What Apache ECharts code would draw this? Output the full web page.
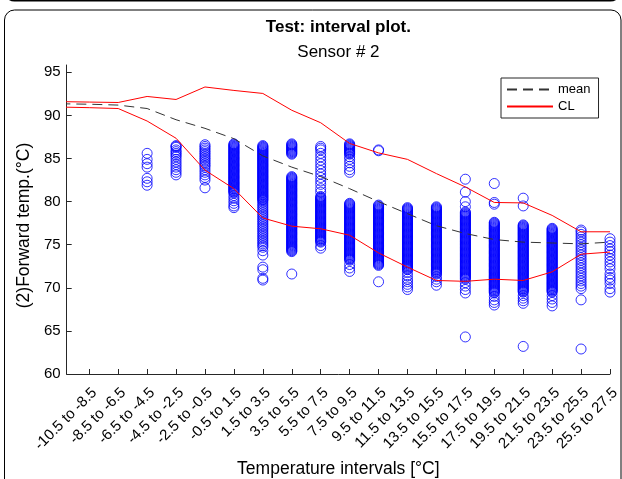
<!DOCTYPE html>
<html><head><meta charset="utf-8">
<script src="https://cdn.jsdelivr.net/npm/echarts@6/dist/echarts.min.js"></script>
<style>html,body{margin:0;padding:0;background:#fff}#c{width:622px;height:479px}</style>
</head><body><div id="c"></div>
<script>
const categories = ['-10.5 to -8.5','-8.5 to -6.5','-6.5 to -4.5','-4.5 to -2.5','-2.5 to -0.5','-0.5 to 1.5','1.5 to 3.5','3.5 to 5.5','5.5 to 7.5','7.5 to 9.5','9.5 to 11.5','11.5 to 13.5','13.5 to 15.5','15.5 to 17.5','17.5 to 19.5','19.5 to 21.5','21.5 to 23.5','23.5 to 25.5','25.5 to 27.5'];
const categoryPos = [1,2,3,4,5,6,7,8,9,10,11,12,13,14,15,16,17,18,19];
const yTicks = [60,65,70,75,80,85,90,95];

const c01 = [];
const c02 = [];
const c03 = [85.6,84.9,84.4,84.0,82.7,82.3,81.9];
const c04 = [86.5,86.4,86.3,86.0,85.8,85.6,85.4,85.2,84.9,84.6,84.3,84.0,83.7,83.4,83.1];
const c05 = [86.6,86.4,86.2,86.0,85.8,85.6,85.4,85.2,85.0,84.8,84.6,84.4,84.2,84.0,83.7,83.4,83.1,82.8,82.5,81.6];
const c06 = [86.7,86.6,86.5,86.4,86.3,86.2,86.1,86.0,85.9,85.8,85.7,85.6,85.5,85.4,85.3,85.2,85.1,85.0,84.9,84.8,84.7,84.6,84.5,84.4,84.3,84.2,84.1,84.0,83.9,83.8,83.7,83.6,83.5,83.4,83.3,83.2,83.1,83.0,82.9,82.8,82.7,82.6,82.5,82.4,82.3,82.2,82.1,82.0,81.9,81.8,81.7,81.6,81.5,81.4,81.3,81.2,81.1,81.0,80.7,80.4,80.1,79.8,79.5,79.3];
const c07 = [86.5,86.4,86.3,86.2,86.1,86.0,85.9,85.8,85.7,85.6,85.5,85.4,85.3,85.2,85.1,85.0,84.9,84.8,84.7,84.6,84.5,84.4,84.3,84.2,84.1,84.0,83.9,83.8,83.7,83.6,83.5,83.4,83.3,83.2,83.1,83.0,82.9,82.8,82.7,82.6,82.5,82.4,82.3,82.2,82.1,82.0,81.9,81.8,81.7,81.6,81.5,81.4,81.3,81.2,81.1,81.0,80.9,80.8,80.7,80.6,80.5,80.4,80.3,80.2,80.1,79.9,79.7,79.5,79.3,79.1,78.9,78.7,78.5,78.3,78.1,77.9,77.7,77.5,77.3,77.1,76.9,76.7,76.5,76.3,76.1,75.9,75.7,75.5,75.3,75.1,74.9,74.7,74.3,73.8,72.4,72.1,71.1,70.9];
const c08 = [86.7,86.6,86.5,86.4,86.3,86.2,86.1,86.0,85.9,85.8,85.7,85.6,85.5,82.9,82.8,82.7,82.6,82.5,82.4,82.3,82.2,82.1,82.0,81.9,81.8,81.7,81.6,81.5,81.4,81.3,81.2,81.1,81.0,80.9,80.8,80.7,80.6,80.5,80.4,80.3,80.2,80.1,80.0,79.9,79.8,79.7,79.6,79.5,79.4,79.3,79.2,79.1,79.0,78.9,78.8,78.7,78.6,78.5,78.4,78.3,78.2,78.1,78.0,77.9,77.8,77.7,77.6,77.5,77.4,77.3,77.2,77.1,77.0,76.9,76.8,76.7,76.6,76.5,76.4,76.3,76.2,76.1,76.0,75.9,75.8,75.7,75.6,75.5,75.4,75.3,75.2,75.1,75.0,74.9,74.8,74.7,74.6,74.5,74.4,74.3,74.2,71.6];
const c09 = [86.4,86.2,86.0,85.6,85.2,84.8,84.4,84.0,83.6,83.2,82.8,82.4,82.0,81.5,81.1,80.6,80.5,80.4,80.3,80.2,80.1,80.0,79.9,79.8,79.7,79.6,79.5,79.4,79.3,79.2,79.1,79.0,78.9,78.8,78.7,78.6,78.5,78.4,78.3,78.2,78.1,78.0,77.9,77.8,77.7,77.6,77.5,77.4,77.3,77.2,77.1,77.0,76.9,76.8,76.7,76.6,76.5,76.4,76.3,76.2,76.1,76.0,75.9,75.8,75.7,75.6,75.5,75.4,75.3,74.9,74.6];
const c10 = [86.7,86.6,86.5,86.4,86.3,86.2,86.1,86.0,85.9,85.8,85.7,85.6,85.5,85.2,84.9,84.5,84.1,83.7,83.4,79.8,79.7,79.6,79.5,79.4,79.3,79.2,79.1,79.0,78.9,78.8,78.7,78.6,78.5,78.4,78.3,78.2,78.1,78.0,77.9,77.8,77.7,77.6,77.5,77.4,77.3,77.2,77.1,77.0,76.9,76.8,76.7,76.6,76.5,76.4,76.3,76.2,76.1,76.0,75.9,75.8,75.7,75.6,75.5,75.4,75.3,75.2,75.1,75.0,74.9,74.8,74.7,74.6,74.5,74.4,74.3,74.2,74.1,74.0,73.9,73.8,73.7,73.6,73.5,73.4,73.3,73.2,72.7,72.3,71.9];
const c11 = [86.0,85.9,79.6,79.5,79.4,79.3,79.2,79.1,79.0,78.9,78.8,78.7,78.6,78.5,78.4,78.3,78.2,78.1,78.0,77.9,77.8,77.7,77.6,77.5,77.4,77.3,77.2,77.1,77.0,76.9,76.8,76.7,76.6,76.5,76.4,76.3,76.2,76.1,76.0,75.9,75.8,75.7,75.6,75.5,75.4,75.3,75.2,75.1,75.0,74.9,74.8,74.7,74.6,74.5,74.4,74.3,74.2,74.1,74.0,73.9,73.8,73.7,73.6,73.5,73.4,73.3,73.2,73.1,73.0,72.9,72.8,72.7,72.6,70.7];
const c12 = [79.3,79.2,79.1,79.0,78.9,78.8,78.7,78.6,78.5,78.4,78.3,78.2,78.1,78.0,77.9,77.8,77.7,77.6,77.5,77.4,77.3,77.2,77.1,77.0,76.9,76.8,76.7,76.6,76.5,76.4,76.3,76.2,76.1,76.0,75.9,75.8,75.7,75.6,75.5,75.4,75.3,75.2,75.1,75.0,74.9,74.8,74.7,74.6,74.5,74.4,74.3,74.2,74.1,74.0,73.9,73.8,73.7,73.6,73.5,73.4,73.3,73.2,73.1,73.0,72.9,72.8,72.7,72.6,72.5,72.4,72.3,72.2,72.1,71.8,71.4,71.0,70.7,70.4,70.1,69.8];
const c13 = [79.4,79.3,79.2,79.1,79.0,78.9,78.8,78.7,78.6,78.5,78.4,78.3,78.2,78.1,78.0,77.9,77.8,77.7,77.6,77.5,77.4,77.3,77.2,77.1,77.0,76.9,76.8,76.7,76.6,76.5,76.4,76.3,76.2,76.1,76.0,75.9,75.8,75.7,75.6,75.5,75.4,75.3,75.2,75.1,75.0,74.9,74.8,74.7,74.6,74.5,74.4,74.3,74.2,74.1,74.0,73.9,73.8,73.7,73.6,73.5,73.4,73.3,73.2,73.1,73.0,72.9,72.8,72.7,72.6,72.5,72.4,72.3,72.2,72.1,72.0,71.9,71.8,71.7,71.6,71.3,71.0,70.7,70.3];
const c14 = [82.6,81.1,80.0,79.4,78.8,78.7,78.6,78.5,78.4,78.3,78.2,78.1,78.0,77.9,77.8,77.7,77.6,77.5,77.4,77.3,77.2,77.1,77.0,76.9,76.8,76.7,76.6,76.5,76.4,76.3,76.2,76.1,76.0,75.9,75.8,75.7,75.6,75.5,75.4,75.3,75.2,75.1,75.0,74.9,74.8,74.7,74.6,74.5,74.4,74.3,74.2,74.1,74.0,73.9,73.8,73.7,73.6,73.5,73.4,73.3,73.2,73.1,73.0,72.9,72.8,72.7,72.6,72.5,72.4,72.3,72.2,72.1,72.0,71.9,71.8,71.7,71.6,71.5,71.4,71.3,71.2,71.1,71.0,70.6,70.2,69.8,69.4,64.3];
const c15 = [82.1,79.9,79.7,77.6,77.5,77.4,77.3,77.2,77.1,77.0,76.9,76.8,76.7,76.6,76.5,76.4,76.3,76.2,76.1,76.0,75.9,75.8,75.7,75.6,75.5,75.4,75.3,75.2,75.1,75.0,74.9,74.8,74.7,74.6,74.5,74.4,74.3,74.2,74.1,74.0,73.9,73.8,73.7,73.6,73.5,73.4,73.3,73.2,73.1,73.0,72.9,72.8,72.7,72.6,72.5,72.4,72.3,72.2,72.1,72.0,71.9,71.8,71.7,71.6,71.5,71.4,71.3,71.2,71.1,71.0,70.9,70.8,70.7,70.6,70.5,70.4,70.3,70.2,70.1,70.0,69.9,69.8,69.7,69.6,69.5,69.4,69.0,68.6,68.3,68.0];
const c16 = [80.4,79.5,77.3,77.2,77.1,77.0,76.9,76.8,76.7,76.6,76.5,76.4,76.3,76.2,76.1,76.0,75.9,75.8,75.7,75.6,75.5,75.4,75.3,75.2,75.1,75.0,74.9,74.8,74.7,74.6,74.5,74.4,74.3,74.2,74.1,74.0,73.9,73.8,73.7,73.6,73.5,73.4,73.3,73.2,73.1,73.0,72.9,72.8,72.7,72.6,72.5,72.4,72.3,72.2,72.1,72.0,71.9,71.8,71.7,71.6,71.5,71.4,71.3,71.2,71.1,71.0,70.9,70.8,70.7,70.6,70.5,70.4,70.3,70.2,70.1,70.0,69.9,69.8,69.7,69.6,69.5,69.1,68.8,68.5,68.2,63.2];
const c17 = [76.9,76.8,76.7,76.6,76.5,76.4,76.3,76.2,76.1,76.0,75.9,75.8,75.7,75.6,75.5,75.4,75.3,75.2,75.1,75.0,74.9,74.8,74.7,74.6,74.5,74.4,74.3,74.2,74.1,74.0,73.9,73.8,73.7,73.6,73.5,73.4,73.3,73.2,73.1,73.0,72.9,72.8,72.7,72.6,72.5,72.4,72.3,72.2,72.1,72.0,71.9,71.8,71.7,71.6,71.5,71.4,71.3,71.2,71.1,71.0,70.9,70.8,70.7,70.6,70.5,70.4,70.3,70.2,70.1,70.0,69.9,69.8,69.7,69.6,69.5,69.1,68.7,68.3,67.9];
const c18 = [76.7,76.5,76.2,75.9,75.6,75.3,75.0,74.7,74.4,74.1,73.8,73.5,73.2,72.9,72.6,72.3,72.0,71.7,71.4,71.1,70.8,70.5,70.2,69.9,68.6,62.9];
const c19 = [75.7,75.3,74.9,74.5,74.2,73.8,73.4,73.0,72.6,72.2,71.6,71.2,70.9,70.5,69.9,69.5];
const columns = [c01,c02,c03,c04,c05,c06,c07,c08,c09,c10,c11,c12,c13,c14,c15,c16,c17,c18,c19];

const lineX = [0,1,2,3,4,5,6,7,8,9,10,11,12,13,14,15,16,17,18,19];
const meanVals = [91.35,91.3,91.2,90.8,89.5,88.5,87.3,85.3,84.0,82.9,81.5,80.0,78.6,77.2,76.3,75.6,75.3,75.2,75.1,75.3];
const clUpper = [91.6,91.55,91.5,92.2,91.85,93.3,92.9,92.55,90.6,89.15,86.75,85.65,84.9,83.25,81.7,79.9,79.85,78.4,76.5,76.5];
const clLower = [90.97,90.9,90.8,89.35,87.35,83.65,81.5,78.1,77.15,76.85,76.1,74.05,72.4,70.85,70.75,71.0,70.85,71.85,73.9,74.15];

const pts = [];
columns.forEach((col, i) => col.forEach(v => pts.push([categoryPos[i], v])));
const pair = arr => lineX.map((x, i) => [x, arr[i]]);

const FONT = 'Liberation Sans, Arial, Helvetica, sans-serif';
const AX = '#262626';
const chart = echarts.init(document.getElementById('c'), null, {renderer: 'canvas'});
chart.setOption({
  animation: false,
  backgroundColor: '#fff',
  textStyle: {fontFamily: FONT},
  title: [
    {text: 'Test: interval plot.', left: 338.4, textAlign: 'center', top: 19, padding: 0,
     textStyle: {fontSize: 17, fontWeight: 'bold', color: '#000', fontFamily: FONT}},
    {text: 'Sensor # 2', left: 338.4, textAlign: 'center', top: 44, padding: 0,
     textStyle: {fontSize: 17, fontWeight: 'normal', color: '#000', fontFamily: FONT}}
  ],
  legend: {
    data: ['mean', 'CL'], orient: 'vertical', left: 501, top: 78,
    padding: [5, 8, 5, 5], itemWidth: 46, itemHeight: 14, itemGap: 4,
    borderColor: AX, borderWidth: 1, backgroundColor: '#fff', selectedMode: false,
    itemStyle: {opacity: 0, color: 'transparent', borderWidth: 0},
    textStyle: {fontSize: 13, color: '#000', fontFamily: FONT}
  },
  graphic: [
    {type: 'rect', silent: true, z: -10, shape: {x: 4.5, y: -600, width: 616, height: 600.5, r: 10},
     style: {fill: 'none', stroke: '#000', lineWidth: 2}},
    {type: 'rect', silent: true, z: -10, shape: {x: 4.5, y: 10, width: 616.5, height: 700, r: 10},
     style: {fill: 'none', stroke: '#000', lineWidth: 1}}
  ],
  grid: {left: 66.7, right: 12, top: 65, bottom: 105, containLabel: false, outerBoundsMode: 'none'},
  xAxis: {
    type: 'value', min: 0.22, max: 19,
    name: 'Temperature intervals [°C]', nameLocation: 'middle', nameGap: 85,
    nameTextStyle: {fontSize: 17.5, color: '#000', fontFamily: FONT},
    axisLine: {lineStyle: {color: AX, width: 1}},
    axisTick: {inside: true, length: 5, customValues: categoryPos, lineStyle: {color: AX}},
    axisLabel: {customValues: categoryPos, rotate: 45, align: 'right', verticalAlign: 'top', margin: 11,
      fontSize: 15, color: '#000', fontFamily: FONT,
      formatter: v => categories[Math.round(v) - 1]},
    splitLine: {show: false}
  },
  yAxis: {
    type: 'value', min: 60, max: 95.85,
    name: '(2)Forward temp.(°C)', nameLocation: 'middle', nameGap: 30,
    nameTextStyle: {fontSize: 17.5, color: '#000', fontFamily: FONT, padding: [0, 12, 0, 0]},
    axisLine: {show: true, lineStyle: {color: AX, width: 1}},
    axisTick: {show: true, inside: true, length: 5, customValues: yTicks, lineStyle: {color: AX}},
    axisLabel: {customValues: yTicks, margin: 6, fontSize: 15, color: '#000', fontFamily: FONT},
    splitLine: {show: false}
  },
  series: [
    {type: 'scatter', name: 'data', data: pts, symbol: 'circle', symbolSize: 10, silent: true,
     itemStyle: {color: 'transparent', borderColor: '#0000ff', borderWidth: 1}},
    {type: 'line', name: 'mean', data: pair(meanVals), symbol: 'none', silent: true,
     itemStyle: {color: '#333'}, lineStyle: {color: '#333', width: 1, type: [10, 6]}},
    {type: 'line', name: 'CL', data: pair(clUpper), symbol: 'none', silent: true,
     itemStyle: {color: '#ff0000'}, lineStyle: {color: '#ff0000', width: 1}},
    {type: 'line', name: 'CL', data: pair(clLower), symbol: 'none', silent: true,
     itemStyle: {color: '#ff0000'}, lineStyle: {color: '#ff0000', width: 1}}
  ]
});
</script></body></html>
